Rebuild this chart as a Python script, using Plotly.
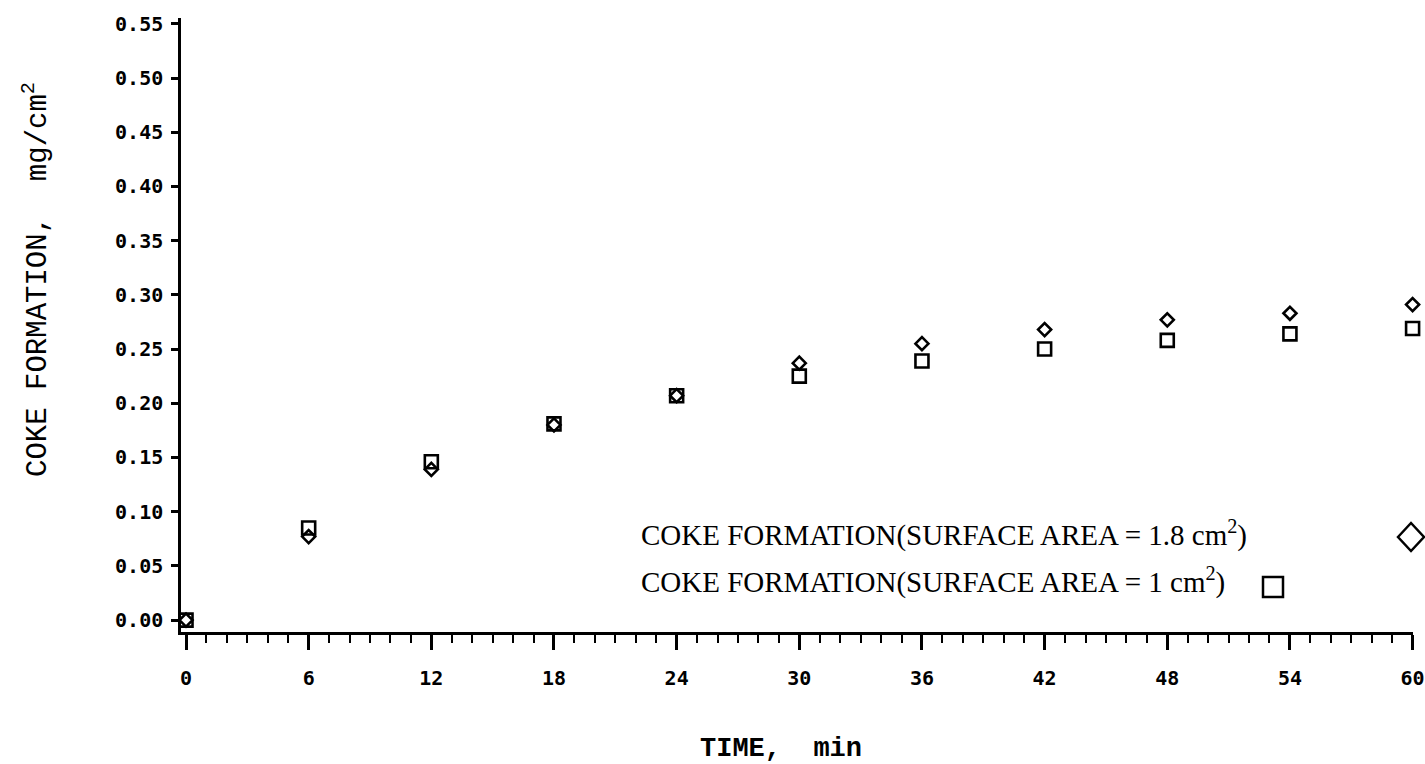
import plotly.graph_objects as go

# Data
time_min = [0, 6, 12, 18, 24, 30, 36, 42, 48, 54, 60]
coke_area_18 = [0.000, 0.077, 0.139, 0.180, 0.207, 0.237, 0.255, 0.268, 0.277, 0.283, 0.291]
coke_area_10 = [0.000, 0.085, 0.146, 0.181, 0.207, 0.225, 0.239, 0.250, 0.258, 0.264, 0.269]

x_ticks = [0, 6, 12, 18, 24, 30, 36, 42, 48, 54, 60]
y_ticks = [0.00, 0.05, 0.10, 0.15, 0.20, 0.25, 0.30, 0.35, 0.40, 0.45, 0.50, 0.55]
y_ticklabels = ["%.2f" % v for v in y_ticks]

legend_1 = "COKE FORMATION(SURFACE AREA = 1.8 cm<sup>2</sup>)"
legend_2 = "COKE FORMATION(SURFACE AREA = 1 cm<sup>2</sup>)"
y_title = "COKE FORMATION,  mg/cm<sup>2</sup>"
x_title = "TIME,  min"

W, H = 1425, 764
ML, MR, MT, MB = 181, 12, 18, 132
PW, PH = W - ML - MR, H - MT - MB


def px_x(px):
    return (px - ML) / PW


def px_y(py):
    return (H - MB - py) / PH


fig = go.Figure()
fig.add_trace(go.Scatter(
    x=time_min, y=coke_area_10, mode="markers", cliponaxis=False,
    marker=dict(symbol="square-open", size=13, color="black", line=dict(width=2.6, color="black")),
    showlegend=False))
fig.add_trace(go.Scatter(
    x=time_min, y=coke_area_18, mode="markers", cliponaxis=False,
    marker=dict(symbol="diamond-open", size=10, color="black", line=dict(width=2.6, color="black")),
    showlegend=False))

tick_font = dict(family="DejaVu Sans Mono", size=20, color="black", weight="bold")

fig.update_xaxes(
    range=[-0.245, 60.02], tickmode="array", tickvals=x_ticks, ticktext=[str(v) for v in x_ticks],
    showline=True, linecolor="black", linewidth=2.5, mirror=False,
    ticks="outside", ticklen=15, tickwidth=2.5, tickcolor="black",
    minor=dict(dtick=1, tick0=0, ticks="outside", ticklen=8, tickwidth=2, tickcolor="black", showgrid=False),
    showgrid=False, zeroline=False, tickfont=tick_font, ticklabelstandoff=11, automargin=False)
fig.update_yaxes(
    range=[-0.011, 0.5554], tickmode="array", tickvals=y_ticks, ticktext=y_ticklabels,
    showline=True, linecolor="black", linewidth=2.5, mirror=False,
    ticks="outside", ticklen=7, tickwidth=2.5, tickcolor="black",
    showgrid=False, zeroline=False, tickfont=tick_font, ticklabelstandoff=4, automargin=False)

annotations = [
    dict(text=y_title, xref="paper", yref="paper", x=px_x(36), y=px_y(280), textangle=-90,
         showarrow=False, xanchor="center", yanchor="middle",
         font=dict(family="Liberation Mono", size=29, color="black")),
    dict(text=x_title, xref="paper", yref="paper", x=px_x(781), y=px_y(749),
         showarrow=False, xanchor="center", yanchor="middle",
         font=dict(family="Liberation Mono", size=27, color="black", weight="bold")),
    dict(text=legend_1, xref="paper", yref="paper", x=px_x(639), y=px_y(533),
         showarrow=False, xanchor="left", yanchor="middle",
         font=dict(family="Liberation Serif", size=29, color="black")),
    dict(text=legend_2, xref="paper", yref="paper", x=px_x(639), y=px_y(580),
         showarrow=False, xanchor="left", yanchor="middle",
         font=dict(family="Liberation Serif", size=29, color="black")),
]

shapes = [
    # legend key: diamond (1.8 cm2)
    dict(type="path", xref="paper", yref="paper", xsizemode="pixel", ysizemode="pixel",
         xanchor=px_x(1411), yanchor=px_y(537),
         path="M -13,0 L 0,14 L 13,0 L 0,-14 Z", line=dict(color="black", width=2.5)),
    # legend key: square (1 cm2)
    dict(type="rect", xref="paper", yref="paper", xsizemode="pixel", ysizemode="pixel",
         xanchor=px_x(1273), yanchor=px_y(587), x0=-10, x1=10, y0=-10, y1=10,
         line=dict(color="black", width=2.5)),
]

fig.update_layout(
    width=W, height=H, margin=dict(l=ML, r=MR, t=MT, b=MB, pad=0, autoexpand=False),
    paper_bgcolor="white", plot_bgcolor="white",
    annotations=annotations, shapes=shapes, showlegend=False)

fig.write_html("out.html")
